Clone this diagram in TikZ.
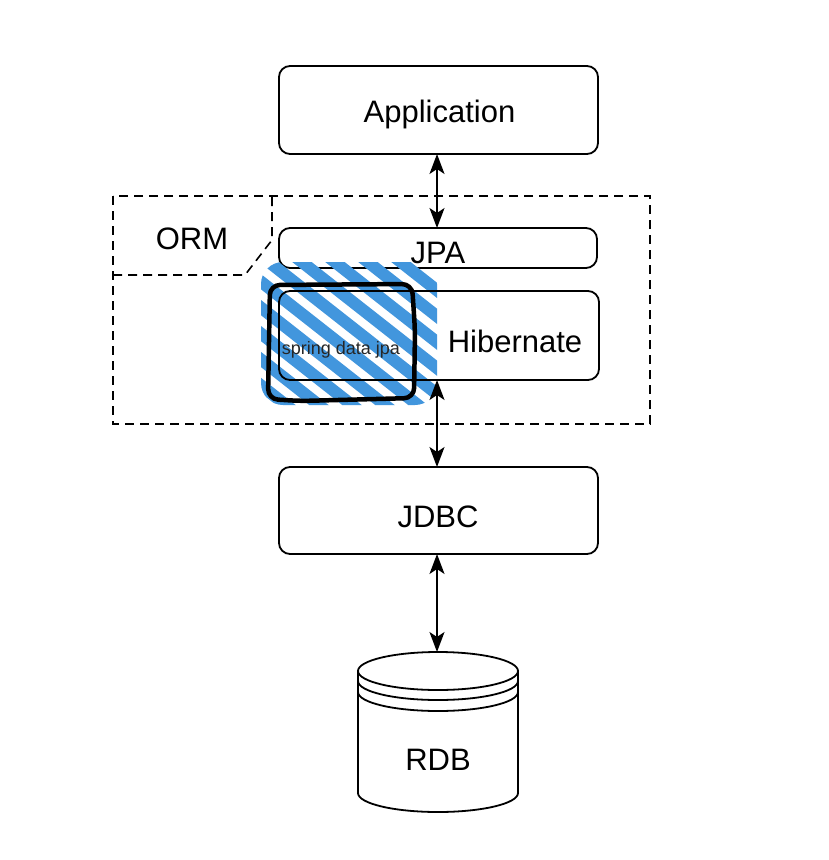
\documentclass[tikz,border=0pt]{standalone}
\usepackage{fontspec}
\setmainfont{Liberation Sans}
\usetikzlibrary{arrows.meta}
\begin{document}
\begin{tikzpicture}[x=1pt,y=-1pt,
  box/.style={draw=black,line width=1.8pt,rounded corners=11pt},
  lbl/.style={font=\fontsize{31}{36}\selectfont,inner sep=0pt},
  link/.style={line width=1.8pt,{Stealth[length=20pt,width=15pt,inset=5pt]}-{Stealth[length=20pt,width=15pt,inset=5pt]}},
  dashbox/.style={draw=black,line width=1.6pt,dash pattern=on 9pt off 6pt},
  hatch/.style={line width=12pt,line cap=round,color=hatchblue}]
\definecolor{hatchblue}{RGB}{66,150,221}
\useasboundingbox (0,0) rectangle (829,860);
\fill[white] (0,0) rectangle (829,860);
% ORM region
\draw[dashbox] (113,196) rectangle (650,424);
\draw[dashbox] (113,275) -- (245,275) -- (272,240) -- (272,196);
\node[lbl] (orm) at (192,239) {ORM};
% Application
\draw[box] (279,66) rectangle (598,154);
\node[lbl] (app) at (439.5,114) {Application};
\coordinate (appb) at (437,154);
% JPA
\draw[box] (279,228) rectangle (597,268);
\node[lbl] (jpa) at (438,252.5) {JPA};
\coordinate (jpat) at (437,228);
% hatching
\begin{scope}
\clip[rounded corners=22pt] (261,262) rectangle (437,405);
\foreach \i in {0,...,10}
  \draw[hatch] (95+33*\i,255) -- ++(210,165);
\end{scope}
% Hibernate
\draw[box] (279,291) rectangle (599,380);
\node[lbl] (hib) at (515,341) {Hibernate};
\coordinate (hibb) at (437,380);
% spring data jpa hand-drawn box
\draw[line width=4.5pt,rounded corners=10pt,line join=round] (270,285) -- (412,284) -- (415,330) -- (414,398) -- (300,401) -- (268,399) -- cycle;
\node[font=\fontsize{18}{20}\selectfont,inner sep=0pt,text=black!85] (sdj) at (341,350) {spring data jpa};
% JDBC
\draw[box] (279,467) rectangle (598,554);
\node[lbl] (jdbc) at (438,517) {JDBC};
\coordinate (jdbct) at (437,467);
\coordinate (jdbcb) at (437,554);
% RDB cylinder
\draw[line width=1.8pt,fill=white] (358,671) -- (358,793) arc[start angle=180,end angle=0,x radius=80,y radius=19] -- (518,671);
\draw[line width=1.8pt] (438,671) ellipse[x radius=80,y radius=19];
\draw[line width=1.8pt] (358,681) arc[start angle=180,end angle=0,x radius=80,y radius=19];
\draw[line width=1.8pt] (358,692) arc[start angle=180,end angle=0,x radius=80,y radius=19];
\node[lbl] (rdb) at (438,760) {RDB};
\coordinate (rdbt) at (437,652);
% connectors
\draw[link] (appb) -- (jpat);
\draw[link] (hibb) -- (jdbct);
\draw[link] (jdbcb) -- (rdbt);
\end{tikzpicture}
\end{document}
